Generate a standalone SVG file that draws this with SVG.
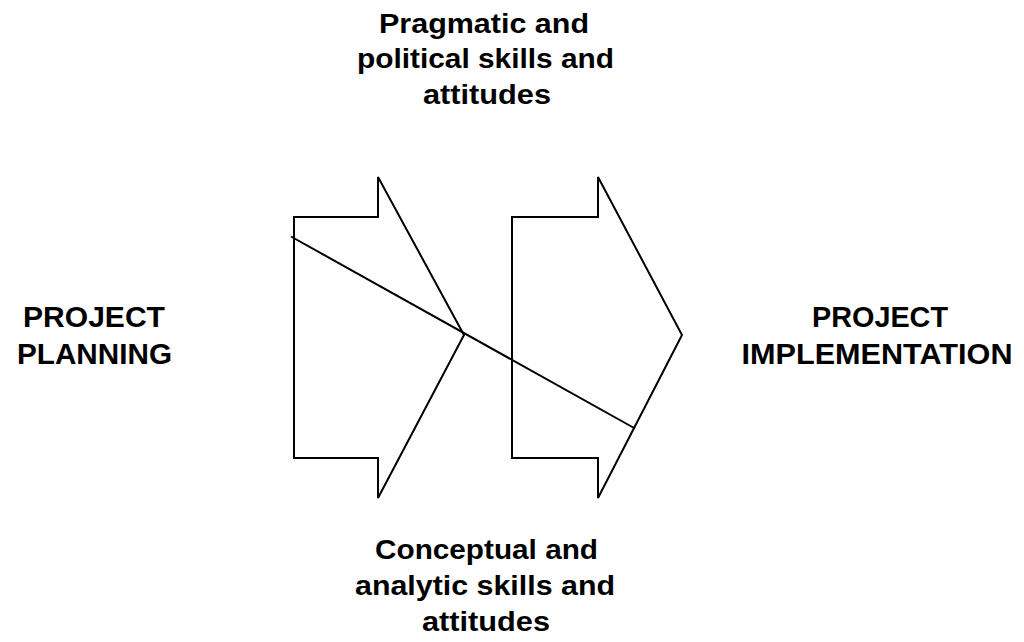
<svg xmlns="http://www.w3.org/2000/svg" width="1024" height="642" viewBox="0 0 1024 642">
  <style>
    .lbl { font-family: "Liberation Sans", Arial, sans-serif; font-weight: bold; fill: #000; text-anchor: middle; }
    .skill { font-size: 27px; }
    .phase { font-size: 29px; }
    .shape { fill: none; stroke: #000; stroke-width: 2; stroke-linejoin: miter; }
  </style>
  <rect width="1024" height="642" fill="#fff"/>

  <g id="label-top">
    <text class="lbl skill" x="484" y="33" textLength="210" lengthAdjust="spacingAndGlyphs">Pragmatic and</text>
    <text class="lbl skill" x="485.5" y="68" textLength="257" lengthAdjust="spacingAndGlyphs">political skills and</text>
    <text class="lbl skill" x="487" y="104" textLength="128" lengthAdjust="spacingAndGlyphs">attitudes</text>
  </g>

  <g id="label-bottom">
    <text class="lbl skill" x="486.5" y="559" textLength="223" lengthAdjust="spacingAndGlyphs">Conceptual and</text>
    <text class="lbl skill" x="485" y="595" textLength="260" lengthAdjust="spacingAndGlyphs">analytic skills and</text>
    <text class="lbl skill" x="486" y="631" textLength="128" lengthAdjust="spacingAndGlyphs">attitudes</text>
  </g>

  <g id="label-planning">
    <text class="lbl phase" x="94" y="327" textLength="142" lengthAdjust="spacingAndGlyphs">PROJECT</text>
    <text class="lbl phase" x="94.5" y="364" textLength="155" lengthAdjust="spacingAndGlyphs">PLANNING</text>
  </g>

  <g id="label-implementation">
    <text class="lbl phase" x="880" y="327" textLength="136" lengthAdjust="spacingAndGlyphs">PROJECT</text>
    <text class="lbl phase" x="877" y="364" textLength="271" lengthAdjust="spacingAndGlyphs">IMPLEMENTATION</text>
  </g>

  <g id="arrow-left">
    <path class="shape" d="M294,217 H378 V177 L464,335 L378,498 V458 H294 Z"/>
  </g>

  <g id="arrow-right">
    <path class="shape" d="M512,217 H598 V177 L682,335 L598,498 V458 H512 Z"/>
  </g>

  <g id="connectors">
    <line x1="291" y1="236.5" x2="635" y2="428.5" stroke="#000" stroke-width="2"/>
  </g>
</svg>
